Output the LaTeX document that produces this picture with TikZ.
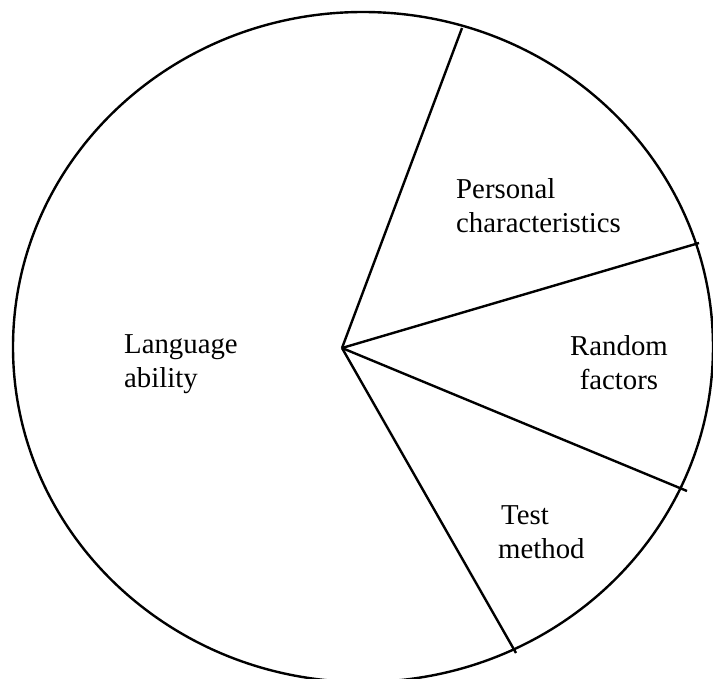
\documentclass[tikz,border=0pt]{standalone}
\usepackage{fontspec}
\setmainfont{Liberation Serif}
\begin{document}
\begin{tikzpicture}[x=0.5pt,y=-0.5pt,line width=1.2pt,
  lbl/.style={inner sep=0pt,anchor=west,font=\fontsize{14.4}{17}\selectfont}]
\useasboundingbox (0,0) rectangle (713,679);
\begin{scope}
\clip (0,0) rectangle (713,679);
\draw (363,347) ellipse [x radius=350, y radius=335];
\end{scope}
\coordinate (c) at (342,348);
\coordinate (e1) at (462,28);
\coordinate (e2) at (699,243);
\coordinate (e3) at (687,491);
\coordinate (e4) at (516,653);
\draw (c) -- (e1);
\draw (c) -- (e2);
\draw (c) -- (e3);
\draw (c) -- (e4);
\node[lbl,align=left] (lang) at (123,364) {Language\\ability};
\node[lbl,align=left] (pers) at (455,206) {Personal\\characteristics};
\node[lbl,align=center] (rand) at (569,363) {Random\\factors};
\node[lbl,align=left] (test) at (497,532) {\hspace{1.5pt}Test\\method};
\end{tikzpicture}
\end{document}
